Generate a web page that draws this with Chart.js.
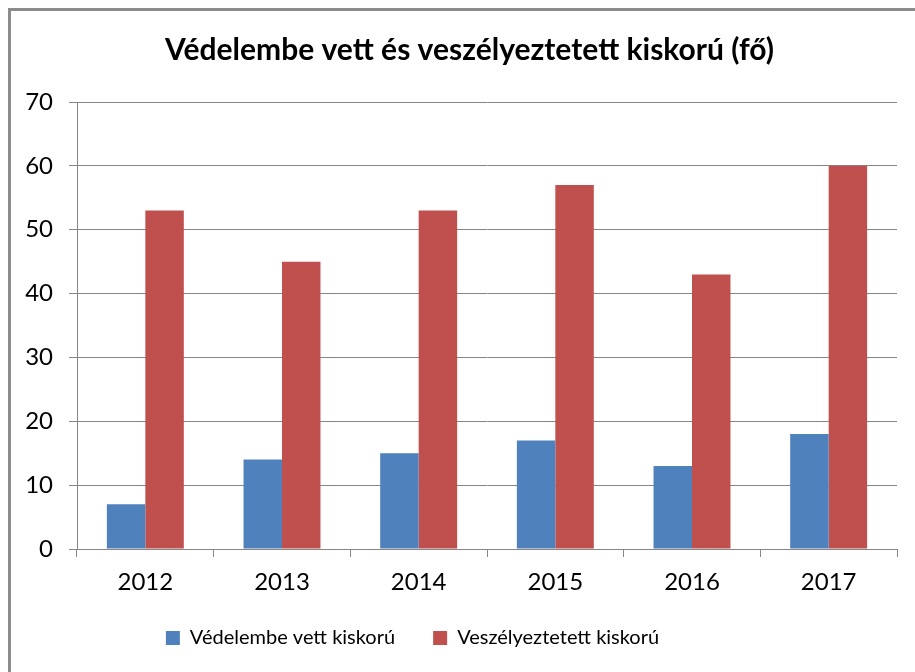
<!DOCTYPE html>
<html>
<head>
<meta charset="utf-8">
<script src="https://cdn.jsdelivr.net/npm/chart.js@4"></script>
<style>
  html, body { margin: 0; padding: 0; background: #fff; overflow: hidden; }
  canvas { display: block; }
</style>
</head>
<body>
<canvas id="chart" width="915" height="672"></canvas>
<script>
const years = ['2012', '2013', '2014', '2015', '2016', '2017'];
const vedelembe = [7, 14, 15, 17, 13, 18];
const veszelyeztetett = [53, 45, 53, 57, 43, 60];

const FONT = 'Lato, "Liberation Sans", sans-serif';

// grey frame round the whole chart, right and bottom edges fall outside the picture
const frame = {
  id: 'frame',
  afterDraw(chart) {
    const ctx = chart.ctx;
    ctx.save();
    ctx.strokeStyle = '#8c8c8c';
    ctx.lineWidth = 3;
    ctx.strokeRect(9.5, 9.5, 1000, 1000);
    ctx.restore();
  }
};

// title sits a bit right of the canvas centre, legend a bit left
const nudge = {
  id: 'nudge',
  afterLayout(chart) {
    chart.titleBlock.left += 11;
    chart.titleBlock.right += 11;
    chart.legend.left -= 46;
    chart.legend.right -= 46;
  }
};

new Chart(document.getElementById('chart').getContext('2d'), {
  type: 'bar',
  data: {
    labels: years,
    datasets: [
      {
        label: 'Védelembe vett kiskorú',
        data: vedelembe,
        backgroundColor: '#4f81bd',
        categoryPercentage: 0.563,
        barPercentage: 1
      },
      {
        label: 'Veszélyeztetett kiskorú',
        data: veszelyeztetett,
        backgroundColor: '#c0504d',
        categoryPercentage: 0.563,
        barPercentage: 1
      }
    ]
  },
  options: {
    responsive: false,
    animation: false,
    layout: { padding: { left: 20, right: 18, top: 32, bottom: 14 } },
    scales: {
      x: {
        grid: { drawOnChartArea: false, drawTicks: true, tickLength: 8, color: '#868686' },
        border: { color: '#868686' },
        ticks: { color: '#000', font: { family: FONT, size: 24 }, padding: 11 },
        afterFit: s => { s.height = 41; }
      },
      y: {
        min: 0,
        max: 70,
        ticks: { stepSize: 10, color: '#000', font: { family: FONT, size: 24 }, padding: 16 },
        grid: { color: '#868686', tickLength: 8 },
        border: { color: '#868686' },
        afterFit: s => { s.width = 57; }
      }
    },
    plugins: {
      title: {
        display: true,
        text: 'Védelembe vett és veszélyeztetett kiskorú (fő)',
        color: '#000',
        font: { family: FONT, size: 30, weight: 'bold' },
        padding: { top: 0, bottom: 34 }
      },
      legend: {
        position: 'bottom',
        labels: {
          color: '#000',
          font: { family: FONT, size: 20 },
          boxWidth: 14,
          boxHeight: 14,
          padding: 38
        }
      },
      tooltip: { enabled: false }
    }
  },
  plugins: [frame, nudge]
});
</script>
</body>
</html>
